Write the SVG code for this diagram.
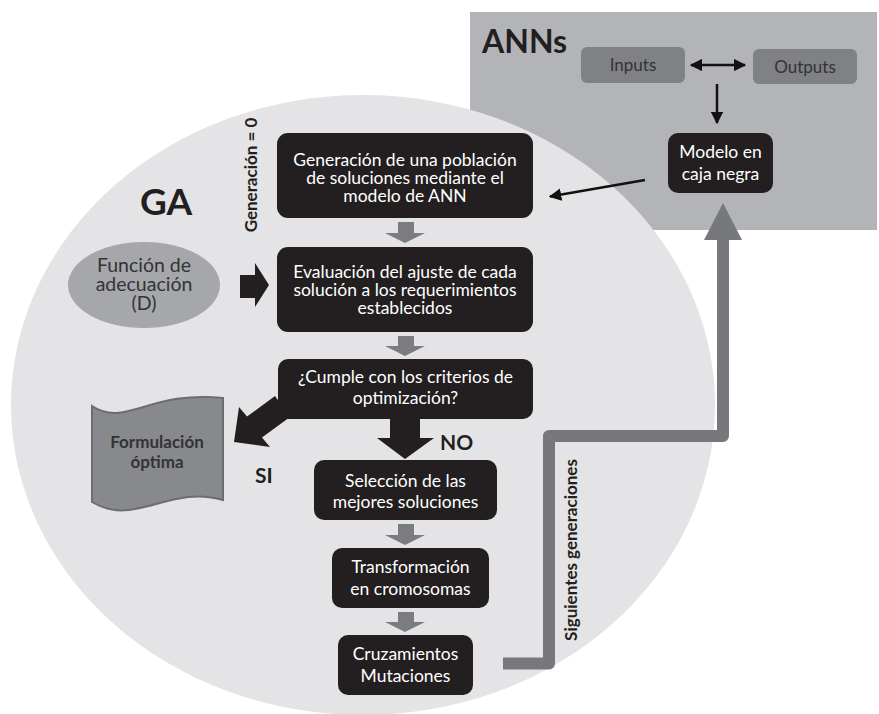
<svg xmlns="http://www.w3.org/2000/svg" width="879" height="714" viewBox="0 0 879 714">
  <style>
    .box { fill: #231f20; }
    .wt { fill: #ffffff; font-family: Lato, "Open Sans", sans-serif; font-size: 17.5px; text-anchor: middle; }
    .dk { fill: #333335; font-family: Lato, "Open Sans", sans-serif; font-size: 17px; text-anchor: middle; }
    .big { font-size: 19.5px; }
    .bold { font-weight: bold; }
    .step { fill: #7b7c7f; }
    .thin { stroke: #111111; stroke-width: 2.5; fill: none; }
  </style>
  <defs>
    <marker id="tip" viewBox="0 0 10 10" refX="9" refY="5" markerWidth="5" markerHeight="5" orient="auto-start-reverse">
      <path d="M0,0 L10,5 L0,10 z" fill="#111111"/>
    </marker>
  </defs>

  <rect width="879" height="714" fill="#ffffff"/>

  <!-- ANN panel -->
  <g id="ann-panel">
    <rect x="470" y="12" width="407" height="218" fill="#b3b4b7"/>
    <text x="482" y="53" font-family="Lato, 'Open Sans', sans-serif" font-size="32" font-weight="bold" fill="#231f20">ANNs</text>
  </g>

  <!-- GA region -->
  <g id="ga-region">
    <ellipse cx="363" cy="405" rx="352" ry="310" fill="#e4e4e6"/>
    <text x="140" y="215" font-family="Lato, 'Open Sans', sans-serif" font-size="37" font-weight="bold" fill="#231f20">GA</text>
  </g>

  <g id="inputs">
    <rect x="581" y="47" width="104" height="36" rx="6" fill="#808184"/>
    <text class="dk" x="633" y="71">Inputs</text>
  </g>
  <g id="outputs">
    <rect x="753" y="49" width="104" height="35" rx="6" fill="#808184"/>
    <text class="dk" x="805" y="73">Outputs</text>
  </g>

  <!-- connectors -->
  <g id="connectors">
    <line class="thin" x1="691" y1="65" x2="745" y2="65" marker-start="url(#tip)" marker-end="url(#tip)"/>
    <line class="thin" x1="717" y1="84" x2="717" y2="123" marker-end="url(#tip)"/>
    <line class="thin" stroke-width="3" x1="645" y1="180" x2="550" y2="196.5" marker-end="url(#tip)"/>

    <!-- loop back to the ANN model -->
    <path d="M503,663.5 H549 V436 H723 V238" fill="none" stroke="#77787c" stroke-width="12" stroke-linejoin="round"/>
    <polygon points="704,240 742,240 723,203" fill="#77787c"/>

    <!-- step arrows -->
    <polygon class="step" points="398,222 414,222 414,233 425,233 405,243 385,233 398,233"/>
    <polygon class="step" points="398,336 414,336 414,346 425,346 405,356 385,346 398,346"/>
    <polygon class="step" points="398,524 414,524 414,535 425,535 405,545 385,535 398,535"/>
    <polygon class="step" points="398,612 414,612 414,622 425,622 405,632 385,622 398,622"/>

    <!-- fitness into evaluation -->
    <polygon fill="#231f20" points="240,275 255,275 255,263 269,285 255,307 255,298 240,298"/>
    <!-- NO branch -->
    <polygon fill="#231f20" points="390,416 420,416 420,438 434,438 405,459 377,438 390,438"/>
    <!-- SI branch -->
    <polygon fill="#231f20" points="290,417 275,396 247,416.5 239,407 234,442 270,447 262,437.5"/>
  </g>

  <g id="fitness">
    <ellipse cx="144" cy="285" rx="76" ry="43" fill="#a6a7aa"/>
    <text class="dk big" x="144" y="272">Función de</text>
    <text class="dk big" x="144" y="291">adecuación</text>
    <text class="dk big" x="144" y="310">(D)</text>
  </g>

  <g id="optimal">
    <path d="M92,406 C125,428 150,390 223,398 L223,500 C170,484 135,528 92,502 Z" fill="#88898c" stroke="#6c6d70" stroke-width="2"/>
    <text class="dk bold" x="157" y="448">Formulación</text>
    <text class="dk bold" x="157" y="468">óptima</text>
  </g>

  <g id="model">
    <rect class="box" x="668" y="133" width="105" height="60" rx="10"/>
    <text class="wt" x="720.5" y="158">Modelo en</text>
    <text class="wt" x="720.5" y="180">caja negra</text>
  </g>

  <g id="population">
    <rect class="box" x="277" y="133" width="256" height="85" rx="11"/>
    <text class="wt" x="405" y="166">Generación de una población</text>
    <text class="wt" x="405" y="184">de soluciones mediante el</text>
    <text class="wt" x="405" y="202">modelo de ANN</text>
  </g>

  <g id="evaluation">
    <rect class="box" x="277" y="247" width="256" height="85" rx="11"/>
    <text class="wt" x="405" y="278">Evaluación del ajuste de cada</text>
    <text class="wt" x="405" y="296">solución a los requerimientos</text>
    <text class="wt" x="405" y="314">establecidos</text>
  </g>

  <g id="criteria">
    <rect class="box" x="278" y="359" width="255" height="60" rx="10"/>
    <text class="wt" x="405.5" y="383">¿Cumple con los criterios de</text>
    <text class="wt" x="405.5" y="404">optimización?</text>
  </g>

  <g id="selection">
    <rect class="box" x="314" y="460" width="183" height="60" rx="10"/>
    <text class="wt" x="405.5" y="487">Selección de las</text>
    <text class="wt" x="405.5" y="508">mejores soluciones</text>
  </g>

  <g id="chromosomes">
    <rect class="box" x="332" y="548" width="157" height="60" rx="10"/>
    <text class="wt" x="410.5" y="573">Transformación</text>
    <text class="wt" x="410.5" y="595">en cromosomas</text>
  </g>

  <g id="crossover">
    <rect class="box" x="338" y="635" width="135" height="60" rx="10"/>
    <text class="wt" x="405.5" y="660">Cruzamientos</text>
    <text class="wt" x="405.5" y="682">Mutaciones</text>
  </g>

  <!-- labels -->
  <g id="labels" font-family="Lato, 'Open Sans', sans-serif" font-weight="bold" fill="#231f20">
    <text x="440" y="450" font-size="21">NO</text>
    <text x="255" y="483" font-size="21">SI</text>
    <text transform="translate(257,175) rotate(-90)" text-anchor="middle" font-size="17">Generación = 0</text>
    <text transform="translate(577,550) rotate(-90)" text-anchor="middle" font-size="17">Siguientes generaciones</text>
  </g>
</svg>
